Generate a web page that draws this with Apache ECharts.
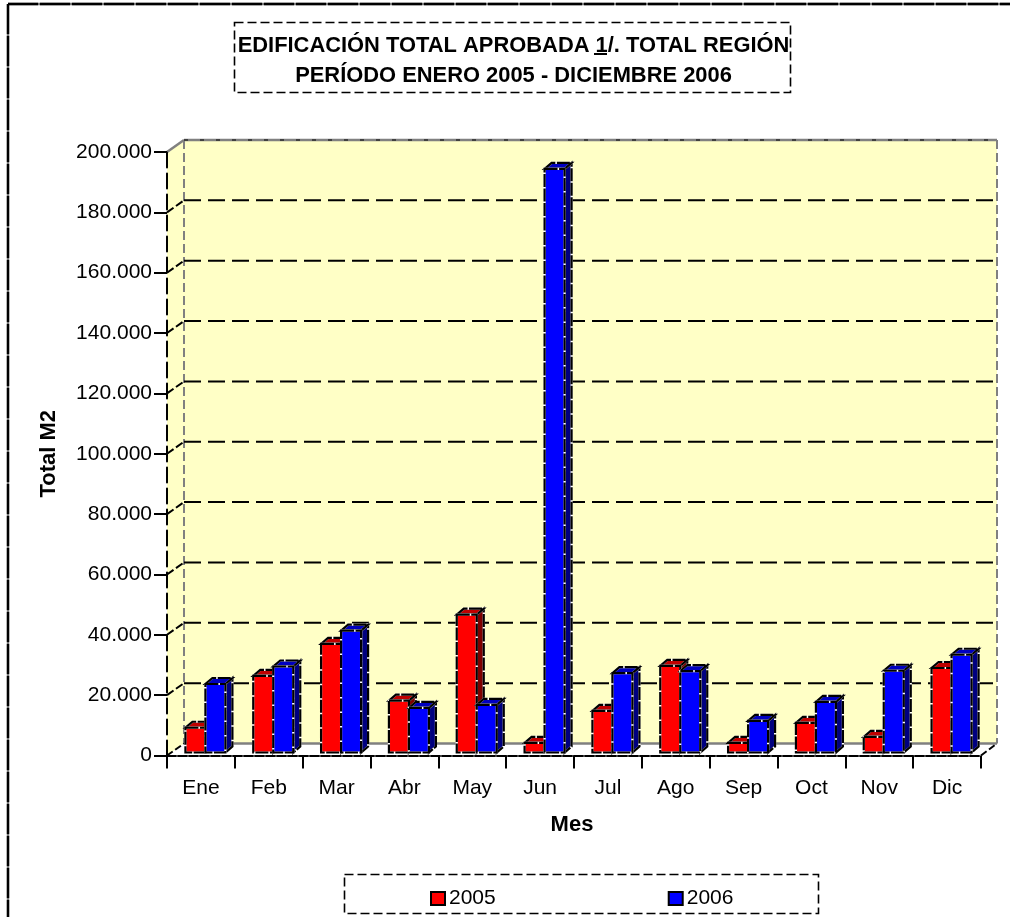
<!DOCTYPE html>
<html>
<head>
<meta charset="utf-8">
<style>html,body{margin:0;padding:0;background:#fff}#c{width:1010px;height:917px}</style>
<script src="https://cdn.jsdelivr.net/npm/echarts@6/dist/echarts.min.js"></script>
</head>
<body>
<div id="c"></div>
<script>
const months = ['Ene','Feb','Mar','Abr','May','Jun','Jul','Ago','Sep','Oct','Nov','Dic'];
const values2005 = [8200,25400,36000,17200,45700,3200,13800,28700,3200,9800,5200,28000];
const values2006 = [22700,28500,40400,14800,15800,193400,26300,27000,10500,16800,27100,32400];
const yTicks = [0,20000,40000,60000,80000,100000,120000,140000,160000,180000,200000];

const FONT = 'Liberation Sans';
const WALL_DX = 17, WALL_DY = 12;
const BAR_DX = 7, BAR_DY = 6, BAR_W = 20, BAR_SHIFT_X = 4.5, BAR_SHIFT_Y = 3;
const DASH = [9, 4];

const fmt = v => String(v).replace(/\B(?=(\d{3})+$)/g, '.');

function poly(points, fill, z2) {
  return {type:'polygon', shape:{points}, style:{fill}, z2: z2 || 0};
}
function line(a, b, stroke, width, dash, z2) {
  return {type:'line', shape:{x1:a[0],y1:a[1],x2:b[0],y2:b[1]},
    style:{stroke, lineWidth:width, lineDash:dash||null, fill:null}, z2: z2 || 0};
}

function renderWalls(params) {
  const c = params.coordSys;
  const l = c.x, r = c.x + c.width, t = c.y, b = c.y + c.height;
  const bl = l + WALL_DX, br = r + WALL_DX - 1, bt = t - WALL_DY, bb = b - WALL_DY;
  return {type:'group', children:[
    poly([[bl,bt],[br,bt],[br,bb],[bl,bb]], '#FFFFC6'),
    poly([[l,t],[bl,bt],[bl,bb],[l,b]], '#FFFFC6'),
    line([l,t],[bl,bt], '#808080', 2.5),
    line([bl,bt],[br,bt], '#808080', 2.5),
    line([bl,bt],[bl,bb], '#808080', 2, DASH),
    line([br,bt],[br,bb], '#808080', 2, DASH),
    line([bl,bb],[br,bb], '#808080', 2.5),
    line([l,b],[bl,bb], '#000', 2, [7,3]),
    line([r,b],[br,bb], '#000', 2, [7,3])
  ]};
}
function renderGrid(params, api) {
  const c = params.coordSys;
  const v = api.value(1);
  if (v === 0) return {type:'group', children:[]};
  const y = api.coord([0, v])[1];
  const l = c.x, r = c.x + c.width;
  const children = [line([l,y],[l+WALL_DX,y-WALL_DY], '#000', 2, [8,3])];
  if (v === 200000) {
    children.length = 0;
    children.push(line([l+WALL_DX,y-WALL_DY],[r+WALL_DX-1,y-WALL_DY], '#000', 1, [4,12]));
  } else {
    children.push(line([l+WALL_DX,y-WALL_DY],[r+WALL_DX-1,y-WALL_DY], '#000', 2, [17,7]));
  }
  return {type:'group', children};
}
function barRenderer(slot, front, top, side) {
  return function (params, api) {
    const i = api.value(0);
    const tp = api.coord([i, api.value(1)]);
    const base = api.coord([i, 0]);
    const x0 = tp[0] + BAR_SHIFT_X + (slot === 0 ? -BAR_W : 0);
    const x1 = x0 + BAR_W;
    const y0 = tp[1] - BAR_SHIFT_Y;
    const y1 = base[1] - BAR_SHIFT_Y;
    const outline = pts => [
      {type:'polygon', shape:{points:pts}, style:{fill:'none', stroke:'#fff', lineWidth:2.2}},
      {type:'polygon', shape:{points:pts}, style:{fill:'none', stroke:'#000', lineWidth:2.2, lineDash:[13,1.5]}}
    ];
    const fp = [[x0,y0],[x1,y0],[x1,y1],[x0,y1]];
    const tpPts = [[x0,y0],[x0+BAR_DX,y0-BAR_DY],[x1+BAR_DX,y0-BAR_DY],[x1,y0]];
    const sp = [[x1,y0],[x1+BAR_DX,y0-BAR_DY],[x1+BAR_DX,y1-BAR_DY],[x1,y1]];
    return {type:'group', children:[
      poly(sp, side), ...outline(sp),
      poly(tpPts, top), ...outline(tpPts),
      poly(fp, front), ...outline(fp)
    ]};
  };
}
const dataOf = arr => arr.map((v, i) => [i, v]);

const chart = echarts.init(document.getElementById('c'), null, {renderer:'canvas'});
chart.setOption({
  animation:false,
  backgroundColor:'#fff',
  textStyle:{fontFamily:FONT, color:'#000'},
  title:{
    text:'EDIFICACIÓN TOTAL APROBADA 1/. TOTAL REGIÓN\nPERÍODO ENERO 2005 - DICIEMBRE 2006',
    left:508.5, top:26, textAlign:'center',
    textStyle:{fontFamily:FONT, fontSize:21.9, fontWeight:'bold', color:'#000', lineHeight:30}
  },
  legend:{
    data:['2005','2006'], left:430, top:888, orient:'horizontal',
    itemWidth:14, itemHeight:13, itemGap:172, padding:0, icon:'rect', selectedMode:false,
    textStyle:{fontFamily:FONT, fontSize:21, color:'#000', padding:[3,0,0,-1]}
  },
  grid:{left:167, right:29, top:152, bottom:161.5, containLabel:false},
  xAxis:{
    type:'category', data:months, boundaryGap:true, z:10,
    name:'Mes', nameLocation:'middle', nameGap:58,
    nameTextStyle:{fontFamily:FONT, fontSize:22, fontWeight:'bold', color:'#000', padding:[0,4,0,0]},
    axisLine:{lineStyle:{color:'#000', width:2, type:[9,2]}},
    axisTick:{show:true, length:13, lineStyle:{color:'#000', width:2}},
    axisLabel:{fontFamily:FONT, fontSize:21, color:'#000', margin:22, interval:0},
    splitLine:{show:false}
  },
  yAxis:{
    type:'value', min:0, max:200000, interval:20000, z:10,
    name:'Total M2', nameLocation:'middle', nameGap:107, nameRotate:90,
    nameTextStyle:{fontFamily:FONT, fontSize:22, fontWeight:'bold', color:'#000', padding:[0,0,0,0]},
    axisLine:{show:true, lineStyle:{color:'#000', width:2, type:[15,6]}},
    axisTick:{show:true, length:13, lineStyle:{color:'#000', width:2}},
    axisLabel:{fontFamily:FONT, fontSize:21, color:'#000', margin:15, padding:[3,0,0,0], formatter:fmt},
    splitLine:{show:false}
  },
  graphic:[
    {type:'line', silent:true, z:49, shape:{x1:8,y1:4,x2:1010,y2:4}, style:{stroke:'#777', lineWidth:2.4}},
    {type:'line', silent:true, z:49, shape:{x1:8,y1:4,x2:8,y2:917}, style:{stroke:'#777', lineWidth:2.4}},
    {type:'line', silent:true, z:50, shape:{x1:8,y1:4,x2:1010,y2:4}, style:{stroke:'#000', lineWidth:2.4, lineDash:[30,2]}},
    {type:'line', silent:true, z:50, shape:{x1:8,y1:4,x2:8,y2:917}, style:{stroke:'#000', lineWidth:2.4, lineDash:[30,2]}},
    {type:'rect', silent:true, z:50, shape:{x:234.5,y:22.5,width:556,height:70}, style:{fill:'none', stroke:'#000', lineWidth:1.6, lineDash:[9,4]}},
    {type:'line', silent:true, z:50, shape:{x1:594,y1:54,x2:607,y2:54}, style:{stroke:'#000', lineWidth:2}},
    {type:'rect', silent:true, z:50, shape:{x:344.5,y:874.5,width:474,height:39}, style:{fill:'none', stroke:'#000', lineWidth:1.6, lineDash:[9,4]}}
  ],
  series:[
    {type:'custom', name:'walls', silent:true, z:1, clip:false, renderItem:renderWalls, data:[[0,0]]},
    {type:'custom', name:'grid', silent:true, z:2, clip:false, renderItem:renderGrid, data:yTicks.map(v=>[0,v]), encode:{x:0,y:1}},
    {type:'custom', name:'2005', z:3, clip:false, itemStyle:{color:'#FF0000', borderColor:'#000', borderWidth:2},
      renderItem:barRenderer(0,'#FF0000','#C00000','#800000'), data:dataOf(values2005), encode:{x:0,y:1}},
    {type:'custom', name:'2006', z:4, clip:false, itemStyle:{color:'#0000FF', borderColor:'#000', borderWidth:2},
      renderItem:barRenderer(1,'#0000FF','#0000C0','#000080'), data:dataOf(values2006), encode:{x:0,y:1}}
  ]
});
</script>
</body>
</html>
